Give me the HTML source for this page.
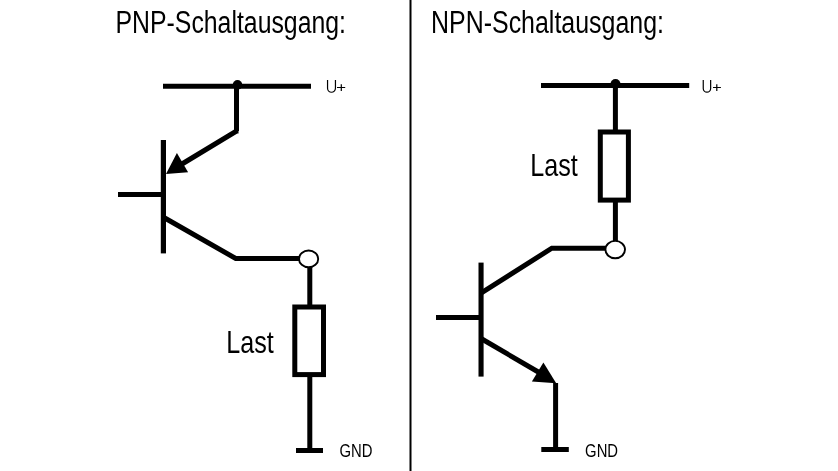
<!DOCTYPE html>
<html><head><meta charset="utf-8">
<style>
html,body{margin:0;padding:0;background:#fff;width:838px;height:471px;overflow:hidden}
svg{display:block;will-change:transform}
text{font-family:"Liberation Sans",sans-serif;fill:#000}
</style></head>
<body>
<svg width="838" height="471" viewBox="0 0 838 471" xmlns="http://www.w3.org/2000/svg">
<rect x="0" y="0" width="838" height="471" fill="#fff"/>
<!-- divider -->
<rect x="409.5" y="0" width="2" height="471" fill="#000"/>
<!-- titles -->
<text x="115.5" y="33.2" font-size="31" textLength="230.5" lengthAdjust="spacingAndGlyphs">PNP-Schaltausgang:</text>
<text x="431" y="33.2" font-size="31" textLength="233" lengthAdjust="spacingAndGlyphs">NPN-Schaltausgang:</text>

<g stroke="#000" stroke-width="5" fill="none" stroke-linecap="butt">
<!-- PNP -->
<line x1="163" y1="86.3" x2="311" y2="86.3"/>
<line x1="236.5" y1="86" x2="236.5" y2="131"/>
<polyline points="238.5,131 236.5,131 182,164" stroke-linejoin="miter"/>
<line x1="118" y1="194.6" x2="163" y2="194.6"/>
<rect x="160.8" y="140" width="5.2" height="113.4" fill="#000" stroke="none"/>
<polyline points="163,217 235.75,258.5 300,258.5"/>
<line x1="309.8" y1="267" x2="309.8" y2="450"/>
<rect x="294.8" y="307" width="28.7" height="67.6" fill="#fff"/>
<rect x="296" y="448" width="27" height="5" fill="#000" stroke="none"/>
<!-- NPN -->
<line x1="541" y1="85.6" x2="689.2" y2="85.6"/>
<line x1="615.4" y1="86" x2="615.4" y2="130"/>
<rect x="600.3" y="132" width="28.1" height="68.1" fill="#fff"/>
<line x1="615.4" y1="202" x2="615.4" y2="241"/>
<polyline points="481,293.2 551.8,248.2 606,248.2"/>
<rect x="478.5" y="262.6" width="5.1" height="114" fill="#000" stroke="none"/>
<line x1="436" y1="317.6" x2="479" y2="317.6"/>
<line x1="481" y1="338.5" x2="540" y2="373"/>
<line x1="555.6" y1="383" x2="555.6" y2="450"/>
<rect x="541.3" y="447" width="27.5" height="5" fill="#000" stroke="none"/>
</g>
<!-- dots -->
<circle cx="237.5" cy="84.9" r="4.8" fill="#000"/>
<circle cx="615.5" cy="84" r="5" fill="#000"/>
<!-- arrows -->
<polygon points="166,174 176.9,153.1 188.1,172.3" fill="#000"/>
<polygon points="556.2,383.2 543.4,362.4 531.9,381.5" fill="#000"/>
<!-- terminals -->
<ellipse cx="308.6" cy="258.9" rx="9.6" ry="8.4" fill="#fff" stroke="#000" stroke-width="1.9"/>
<ellipse cx="615.2" cy="249.6" rx="9.8" ry="8.7" fill="#fff" stroke="#000" stroke-width="1.9"/>
<!-- labels -->
<g fill="none" stroke="#000" stroke-width="1.2">
<path d="M327.55,80 V88.3 A3.95,3.95 0 0 0 335.45,88.3 V80"/>
<path d="M337,87.5 H345.2 M341.3,84.3 V90.9"/>
<path d="M703.25,80 V88.45 A3.7,3.7 0 0 0 710.65,88.45 V80"/>
<path d="M713,87.5 H720.9 M716.8,84.3 V90.9"/>
</g>

<text x="339.4" y="456.7" font-size="17.6" textLength="33" lengthAdjust="spacingAndGlyphs">GND</text>
<text x="585.1" y="456.7" font-size="17.6" textLength="33" lengthAdjust="spacingAndGlyphs">GND</text>
<text x="226.3" y="352.7" font-size="31.5" textLength="47.5" lengthAdjust="spacingAndGlyphs">Last</text>
<text x="530.3" y="176" font-size="31.5" textLength="47.5" lengthAdjust="spacingAndGlyphs">Last</text>
</svg>
</body></html>
